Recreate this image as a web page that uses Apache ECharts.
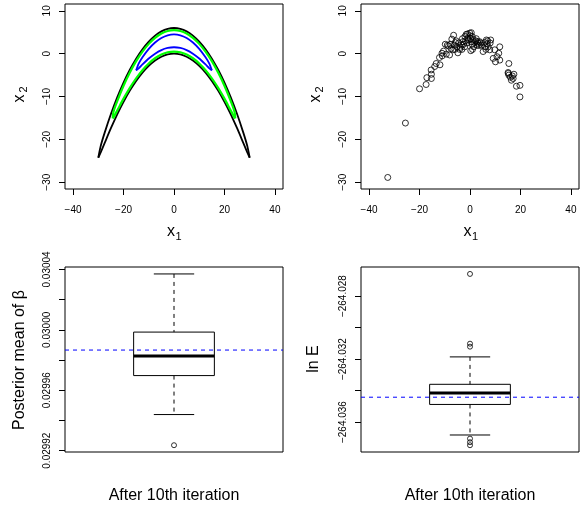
<!DOCTYPE html>
<html><head><meta charset="utf-8">
<script src="https://cdn.jsdelivr.net/npm/echarts@6/dist/echarts.min.js"></script>
<style>html,body{margin:0;padding:0;background:#fff}#c{width:586px;height:508px}</style>
</head><body><div id="c"></div>
<script>
// ---------- Panel 1: contour lines (x1, x2) ----------
const blackX     = [-30, -29, -27.5, -25, -22.5, -20, -17.5, -15, -12.5, -10, -7.5, -5, -2.5, 0, 2.5, 5, 7.5, 10, 12.5, 15, 17.5, 20, 22.5, 25, 27.5, 29, 30];
const blackUpper = [-24.3, -21.46, -18.49, -14.09, -10.20, -6.76, -3.75, -1.15, 1.04, 2.83, 4.22, 5.21, 5.80, 6.00, 5.80, 5.21, 4.22, 2.83, 1.04, -1.15, -3.75, -6.76, -10.20, -14.09, -18.49, -21.46, -24.3];
const blackLower = [-24.3, -23.0, -20.89, -17.41, -14.17, -11.24, -8.62, -6.35, -4.41, -2.83, -1.59, -0.71, -0.18, 0.00, -0.18, -0.71, -1.59, -2.83, -4.41, -6.35, -8.62, -11.24, -14.17, -17.41, -20.89, -23.0, -24.3];

const greenX     = [-24.3, -24, -22.5, -20, -17.5, -15, -12.5, -10, -7.5, -5, -2.5, 0, 2.5, 5, 7.5, 10, 12.5, 15, 17.5, 20, 22.5, 24, 24.3];
const greenUpper = [-15.1, -13.6, -11.10, -7.50, -4.40, -1.75, 0.48, 2.29, 3.70, 4.70, 5.30, 5.50, 5.30, 4.70, 3.70, 2.29, 0.48, -1.75, -4.40, -7.50, -11.10, -13.6, -15.1];
const greenLower = [-15.1, -14.9, -13.28, -10.50, -7.97, -5.75, -3.85, -2.29, -1.07, -0.20, 0.33, 0.50, 0.33, -0.20, -1.07, -2.29, -3.85, -5.75, -7.97, -10.50, -13.28, -14.9, -15.1];

const blueX     = [-15, -14, -12.5, -10, -7.5, -5, -2.5, 0, 2.5, 5, 7.5, 10, 12.5, 14, 15];
const blueUpper = [-3.9, -2.34, -0.86, 1.12, 2.61, 3.66, 4.29, 4.50, 4.29, 3.66, 2.61, 1.12, -0.86, -2.34, -3.9];
const blueLower = [-3.9, -3.42, -2.52, -1.12, 0.01, 0.84, 1.33, 1.50, 1.33, 0.84, 0.01, -1.12, -2.52, -3.42, -3.9];

// ---------- Panel 2: scatter sample ----------
const sampleX1 = [-32.6, -25.6, -20.0, -17.1, -17.4, -15.4, -15.3, -15.3, -13.4, -11.9, -12.1, -11.1, -11.0, -9.4, -9.0, -8.1, -7.8, -7.2, -6.5, -6.8,
  -5.8, -4.8, -5.2, -4.1, -3.4, -2.8, -2.1, -1.5, -0.8, -0.1, 0.3, 0.5, 0.9, 1.5, 2.3, 3.2, 3.8, 5.2, 5.8, 6.5,
  7.2, 8.2, 7.8, 9.2, 10.1, 9.8, 10.7, 11.4, 11.8, 11.8, 15.4, 15.1, 15.4, 16.0, 16.4, 17.4, 17.1, 18.4, 19.8, 19.8,
  -8.5, -7.5, -6.2, -5.5, -4.5, -3.8, -3.0, -2.5, -1.8, -1.2, -0.5, 0.0, 0.2, 0.8, 1.2, 1.8, 2.5, 2.8, 3.5, 4.2,
  4.5, 6.0, 6.8, 7.0, -1.0, 0.5, -9.8, -10.5, -6.0, -3.2, 1.0, -2.0, 3.0, 6.3, 8.0, 15.2, 16.8, -14.0];
const sampleX2 = [-28.9, -16.2, -8.2, -5.6, -7.2, -3.8, -4.8, -5.8, -2.3, -2.6, -0.9, 0.1, -0.5, -0.1, 2.0, -0.3, 2.2, 3.4, 4.3, 0.9,
  2.6, 0.2, 1.6, 1.0, 2.0, 2.8, 1.6, 4.5, 3.6, 4.8, 0.7, 2.8, 4.0, 1.6, 3.0, 2.4, 2.8, 0.5, 2.6, 3.2,
  1.6, 3.2, 0.9, -1.1, -1.9, 0.9, -0.7, 0.1, 1.6, -1.5, -2.3, -4.4, -5.0, -5.5, -6.2, -4.8, -5.8, -7.6, -7.4, -10.1,
  1.8, 1.2, 2.0, 3.0, 2.5, 1.5, 3.5, 2.2, 3.0, 2.5, 3.2, 4.2, 3.5, 2.2, 3.3, 2.6, 3.5, 2.0, 1.9, 2.5,
  2.0, 1.6, 2.3, 3.0, 4.6, 4.9, 2.2, 0.6, 1.0, 1.0, 1.0, 4.0, 2.8, 1.0, 2.5, -4.6, -5.2, -3.0];

// ---------- Panel 3: posterior mean of beta (boxplot) ----------
const betaStats    = [0.0299439, 0.0299697, 0.0299826, 0.0299985, 0.030037]; // lower whisker, Q1, median, Q3, upper whisker
const betaOutliers = [0.0299236];
const betaRef      = 0.0299866;
const betaTicks    = [0.02992, 0.02994, 0.02996, 0.02998, 0.03000, 0.03002, 0.03004];
const betaLabels   = [0.02992, 0.02996, 0.03000, 0.03004];

// ---------- Panel 4: ln E (boxplot) ----------
const lnEStats    = [-264.03682, -264.03488, -264.03416, -264.03360, -264.03186];
const lnEOutliers = [-264.02659, -264.03102, -264.03121, -264.03705, -264.03728, -264.03747];
const lnERef      = -264.03442;
const lnETicks    = [-264.036, -264.034, -264.032, -264.030, -264.028];
const lnELabels   = [-264.036, -264.032, -264.028];

const xyTicks = [-40, -20, 0, 20, 40];
const x2Ticks = [-30, -20, -10, 0, 10];

// ---------- build ----------
const FONT = '"Liberation Sans", Arial, Helvetica, sans-serif';
const zip = (xs, ys) => xs.map((x, i) => [x, ys[i]]);
const minus = v => (v < 0 ? '\u2212' + Math.abs(v) : String(v));
const BOX_X = [0.46, 1.54]; // x range of the boxplot panels

const grids = [
  {left: 65, top: 4, width: 218, height: 185},
  {left: 361, top: 4, width: 218, height: 185},
  {left: 65, top: 267, width: 218, height: 185},
  {left: 361, top: 267, width: 218, height: 185}
].map(g => Object.assign({show: true, borderColor: '#000', borderWidth: 1, backgroundColor: 'transparent'}, g));

function xAxis(gi, min, max, ticks) {
  return {
    type: 'value', gridIndex: gi, min, max, position: 'bottom',
    axisLine: {show: false, onZero: false}, splitLine: {show: false},
    axisTick: {show: !!ticks, length: 6, customValues: ticks, lineStyle: {color: '#000', width: 1}},
    axisLabel: {show: !!ticks, customValues: ticks, fontSize: 10, fontFamily: FONT, color: '#000', margin: 16, formatter: minus}
  };
}
function yAxis(gi, min, max, ticks, labels, fmt) {
  return {
    type: 'value', gridIndex: gi, min, max, scale: true, position: 'left',
    axisLine: {show: false, onZero: false}, splitLine: {show: false},
    axisTick: {show: true, length: 6, customValues: ticks, lineStyle: {color: '#000', width: 1}},
    axisLabel: {show: true, customValues: labels, fontSize: 10, fontFamily: FONT, color: '#000', margin: 13,
      rotate: 90, align: 'center', verticalAlign: 'bottom', formatter: fmt}
  };
}

function boxRender(params, api) {
  const x = api.value(0), lo = api.value(1), q1 = api.value(2), med = api.value(3), q3 = api.value(4), hi = api.value(5);
  const bw = 0.2, cw = 0.1;
  const tl = api.coord([x - bw, q3]), br = api.coord([x + bw, q1]);
  const mL = api.coord([x - bw, med]), mR = api.coord([x + bw, med]);
  const pHi = api.coord([x, hi]), pQ3 = api.coord([x, q3]), pQ1 = api.coord([x, q1]), pLo = api.coord([x, lo]);
  const hL = api.coord([x - cw, hi]), hR = api.coord([x + cw, hi]);
  const lL = api.coord([x - cw, lo]), lR = api.coord([x + cw, lo]);
  const dashed = {stroke: '#000', lineWidth: 1, lineDash: [4, 4]};
  const solid = {stroke: '#000', lineWidth: 1};
  return {type: 'group', children: [
    {type: 'line', shape: {x1: pHi[0], y1: pHi[1], x2: pQ3[0], y2: pQ3[1]}, style: dashed},
    {type: 'line', shape: {x1: pQ1[0], y1: pQ1[1], x2: pLo[0], y2: pLo[1]}, style: dashed},
    {type: 'line', shape: {x1: hL[0], y1: hL[1], x2: hR[0], y2: hR[1]}, style: solid},
    {type: 'line', shape: {x1: lL[0], y1: lL[1], x2: lR[0], y2: lR[1]}, style: solid},
    {type: 'rect', shape: {x: tl[0], y: tl[1], width: br[0] - tl[0], height: br[1] - tl[1]}, style: {stroke: '#000', fill: 'none', lineWidth: 1}},
    {type: 'line', shape: {x1: mL[0], y1: mL[1], x2: mR[0], y2: mR[1]}, style: {stroke: '#000', lineWidth: 3}}
  ]};
}

function contour(xs, ys, color, w) {
  return {type: 'line', xAxisIndex: 0, yAxisIndex: 0, data: zip(xs, ys), symbol: 'none', smooth: 0.25,
    lineStyle: {color, width: w}, silent: true};
}
function refLine(gi, v) {
  return {type: 'line', xAxisIndex: gi, yAxisIndex: gi, data: BOX_X.map(x => [x, v]), symbol: 'none', silent: true,
    lineStyle: {color: '#0000FF', type: [4, 4], width: 1}, z: 5};
}
function outliers(gi, vals) {
  return {type: 'scatter', xAxisIndex: gi, yAxisIndex: gi, data: vals.map(v => [1, v]), symbol: 'circle', symbolSize: 5,
    itemStyle: {color: 'rgba(0,0,0,0)', borderColor: '#000', borderWidth: 1}};
}

const series = [
  contour(blackX, blackUpper, '#000000', 1.8),
  contour(blackX, blackLower, '#000000', 1.8),
  contour(greenX, greenUpper, '#00FF00', 2.2),
  contour(greenX, greenLower, '#00FF00', 2.2),
  contour(blueX, blueUpper, '#0000FF', 1.8),
  contour(blueX, blueLower, '#0000FF', 1.8),
  {type: 'scatter', xAxisIndex: 1, yAxisIndex: 1, data: zip(sampleX1, sampleX2), symbol: 'circle', symbolSize: 6,
    itemStyle: {color: 'rgba(0,0,0,0)', borderColor: '#000', borderWidth: 1}},
  {type: 'custom', xAxisIndex: 2, yAxisIndex: 2, renderItem: boxRender, data: [[1].concat(betaStats)], encode: {x: 0, y: [1, 2, 3, 4, 5]}},
  outliers(2, betaOutliers),
  refLine(2, betaRef),
  {type: 'custom', xAxisIndex: 3, yAxisIndex: 3, renderItem: boxRender, data: [[1].concat(lnEStats)], encode: {x: 0, y: [1, 2, 3, 4, 5]}},
  outliers(3, lnEOutliers),
  refLine(3, lnERef)
];

function txt(text, x, y, size, rot) {
  return {type: 'text', x, y, rotation: rot ? Math.PI / 2 : 0, silent: true,
    style: {text, fontSize: size, fontFamily: FONT, fill: '#000', align: 'center', verticalAlign: 'middle', textAlign: 'center', textVerticalAlign: 'middle'}};
}
const graphic = [
  txt('x', 171, 232, 16), txt('1', 178.5, 237, 11),
  txt('x', 467.5, 232, 16), txt('1', 475, 237, 11),
  txt('x', 19.5, 98.5, 16, true), txt('2', 23.5, 89.5, 11, true),
  txt('x', 315.5, 98.5, 16, true), txt('2', 319.5, 89.5, 11, true),
  txt('Posterior mean of \u03B2', 19.5, 360, 16, true),
  txt('ln E', 314, 359, 16, true),
  txt('After 10th iteration', 174, 496, 16),
  txt('After 10th iteration', 470, 496, 16)
];

const lnEFmt = v => '\u2212' + Math.abs(v).toFixed(3);

const option = {
  animation: false,
  backgroundColor: '#fff',
  textStyle: {fontFamily: FONT},
  grid: grids,
  xAxis: [
    xAxis(0, -43.2, 43.2, xyTicks),
    xAxis(1, -43.2, 43.2, xyTicks),
    Object.assign(xAxis(2, BOX_X[0], BOX_X[1], null), {show: false}),
    Object.assign(xAxis(3, BOX_X[0], BOX_X[1], null), {show: false})
  ],
  yAxis: [
    yAxis(0, -31.6, 11.6, x2Ticks, x2Ticks, minus),
    yAxis(1, -31.6, 11.6, x2Ticks, x2Ticks, minus),
    yAxis(2, 0.0299191, 0.0300416, betaTicks, betaLabels, v => v.toFixed(5)),
    yAxis(3, -264.0379, -264.02615, lnETicks, lnELabels, lnEFmt)
  ],
  series,
  graphic
};

const chart = echarts.init(document.getElementById('c'), null, {renderer: 'canvas'});
chart.setOption(option);
</script>
</body></html>
